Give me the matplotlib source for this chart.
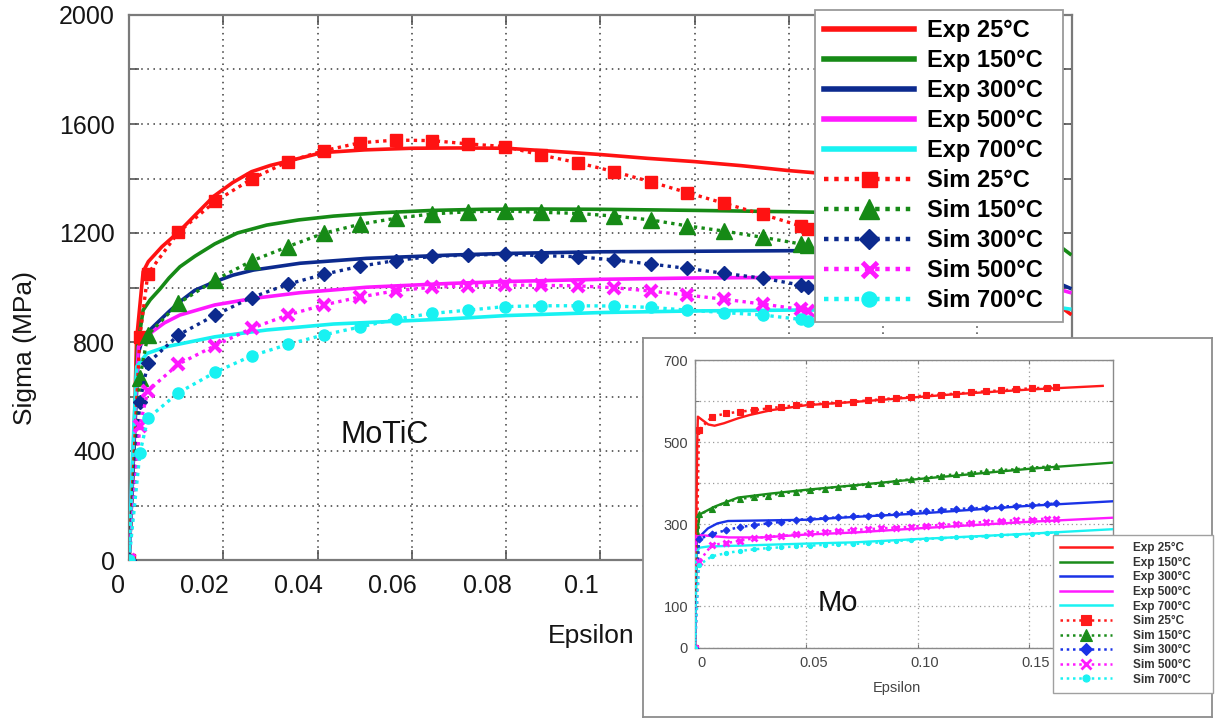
import matplotlib
matplotlib.use('Agg')
import matplotlib.pyplot as plt
from matplotlib.lines import Line2D
from matplotlib.transforms import ScaledTranslation

plt.rcParams['font.family'] = ['Liberation Sans', 'DejaVu Sans']

# ---------------- data: main chart (MoTiC) ----------------
temps = ['25', '150', '300', '500', '700']

exp25_eps = [0, 0.0010, 0.0016, 0.0030, 0.0041, 0.0070, 0.0106, 0.0140, 0.0180, 0.0220, 0.0260, 0.0300,
             0.0340, 0.0410, 0.0500, 0.0600, 0.0700, 0.0800, 0.0900, 0.1000, 0.1100, 0.1200, 0.1300,
             0.1400, 0.1600, 0.1800, 0.1940, 0.1980, 0.2000]
exp25_sig = [0, 400, 807, 1058, 1095, 1150, 1205, 1265, 1335, 1385, 1425, 1448,
             1465, 1495, 1505, 1511, 1512, 1511, 1500, 1488, 1474, 1462, 1447,
             1429, 1400, 1370, 1340, 925, 900]

exp150_eps = [0, 0.0010, 0.0018, 0.0030, 0.0045, 0.0066, 0.0085, 0.0108, 0.0140, 0.0182, 0.0230, 0.0292,
              0.0360, 0.0434, 0.0530, 0.0645, 0.0750, 0.0850, 0.1000, 0.1200, 0.1400, 0.1600, 0.1800,
              0.1920, 0.1980, 0.2000]
exp150_sig = [0, 400, 780, 917, 955, 995, 1035, 1076, 1115, 1160, 1200, 1229,
              1248, 1262, 1274, 1283, 1287, 1288, 1287, 1283, 1278, 1272, 1262,
              1240, 1145, 1119]

exp300_eps = [0, 0.0010, 0.0020, 0.0030, 0.0059, 0.0085, 0.0108, 0.0140, 0.0182, 0.0220, 0.0264, 0.0363,
              0.0504, 0.0681, 0.0800, 0.1000, 0.1200, 0.1400, 0.1920, 0.1980, 0.2000]
exp300_sig = [0, 400, 760, 820, 869, 912, 948, 990, 1021, 1045, 1064, 1089,
              1107, 1119, 1125, 1131, 1133, 1135, 1135, 1010, 995]

exp500_eps = [0, 0.0010, 0.0020, 0.0045, 0.0075, 0.0108, 0.0182, 0.0264, 0.0363, 0.0504, 0.0681, 0.0800,
              0.1000, 0.1200, 0.1400, 0.1920, 0.1980, 0.2000]
exp500_sig = [0, 450, 783, 832, 870, 899, 936, 960, 981, 1001, 1015, 1022,
              1030, 1035, 1037, 1040, 990, 980]

exp700_eps = [0, 0.0008, 0.0016, 0.0038, 0.0080, 0.0182, 0.0292, 0.0434, 0.0681, 0.0800, 0.1000, 0.1200,
              0.1400, 0.1900, 0.1980, 0.2000]
exp700_sig = [0, 400, 709, 758, 783, 819, 844, 866, 885, 897, 908, 914,
              917, 920, 925, 920]

sim_eps = [0, 0.0023, 0.0040, 0.0105, 0.0183, 0.0260, 0.0337, 0.0413, 0.0490, 0.0566, 0.0643,
           0.0720, 0.0798, 0.0875, 0.0952, 0.1030, 0.1107, 0.1185, 0.1263, 0.1345, 0.1425, 0.1440]
sim25_sig = [0, 819, 1050, 1203, 1316, 1398, 1462, 1502, 1531, 1541, 1539,
             1527, 1517, 1486, 1458, 1425, 1388, 1348, 1309, 1268, 1226, 1215]
sim150_sig = [0, 667, 826, 942, 1028, 1097, 1150, 1199, 1232, 1254, 1270,
              1278, 1281, 1276, 1272, 1262, 1248, 1226, 1207, 1184, 1160, 1155]
sim300_sig = [0, 581, 722, 826, 899, 963, 1012, 1048, 1078, 1099, 1114,
              1119, 1122, 1117, 1113, 1101, 1086, 1070, 1052, 1034, 1009, 1003]
sim500_sig = [0, 492, 621, 719, 787, 850, 899, 936, 965, 988, 1001,
              1006, 1009, 1008, 1006, 999, 987, 972, 957, 939, 920, 915]
sim700_sig = [0, 391, 520, 614, 689, 749, 791, 826, 855, 884, 905,
              917, 930, 933, 933, 932, 927, 917, 908, 899, 883, 878]

main_xticks = [0, 0.02, 0.04, 0.06, 0.08, 0.10, 0.12, 0.14, 0.16, 0.18, 0.20]
main_xticklabels = ['0', '0.02', '0.04', '0.06', '0.08', '0.1', '', '', '', '', '']
main_yticks = [0, 200, 400, 600, 800, 1000, 1200, 1400, 1600, 1800, 2000]
main_yticklabels = ['0', '', '400', '', '800', '', '1200', '', '1600', '', '2000']

# ---------------- data: inset (Mo) ----------------
in_exp25_eps = [0, 0.0005, 0.0010, 0.0013, 0.0030, 0.0060, 0.0088, 0.0130, 0.0193, 0.0245, 0.0343,
                0.0500, 0.0717, 0.0957, 0.1200, 0.1500, 0.1831]
in_exp25_sig = [0, 250, 500, 562, 555, 543, 540, 546, 558, 566, 578,
                590, 598, 608, 618, 628, 637]
in_exp150_eps = [0, 0.0008, 0.0015, 0.0021, 0.0088, 0.0193, 0.0343, 0.0500, 0.0717, 0.1000, 0.1500, 0.1872]
in_exp150_sig = [0, 250, 300, 324, 343, 365, 375, 384, 395, 410, 435, 450]
in_exp300_eps = [0, 0.0006, 0.0030, 0.0058, 0.0100, 0.0148, 0.0268, 0.0500, 0.0717, 0.1000, 0.1500, 0.1876]
in_exp300_sig = [0, 262, 275, 290, 302, 308, 309, 311, 318, 326, 345, 356]
in_exp500_eps = [0, 0.0006, 0.0060, 0.0150, 0.0300, 0.0500, 0.0717, 0.1000, 0.1500, 0.1876]
in_exp500_sig = [0, 274, 272, 268, 268, 275, 280, 290, 306, 316]
in_exp700_eps = [0, 0.0006, 0.0020, 0.0060, 0.0200, 0.0500, 0.0717, 0.1000, 0.1500, 0.1876]
in_exp700_sig = [0, 230, 243, 246, 248, 253, 256, 264, 277, 288]

in_sim_eps = [0, 0.0018, 0.0076, 0.0141, 0.0201, 0.0264, 0.0328, 0.0388, 0.0455, 0.0515, 0.0583,
              0.0642, 0.0710, 0.0777, 0.0837, 0.0904, 0.0969, 0.1038, 0.1104, 0.1172, 0.1238,
              0.1307, 0.1373, 0.1442, 0.1512, 0.1580, 0.1620]
in_sim25_sig = [0, 529, 562, 570, 574, 578, 582, 586, 590, 592, 594,
                596, 598, 602, 604, 608, 610, 614, 616, 618, 621,
                624, 626, 629, 631, 633, 635]
in_sim150_sig = [0, 324, 337, 355, 361, 367, 370, 375, 379, 383, 387,
                 391, 394, 397, 400, 405, 410, 413, 418, 422, 425,
                 430, 432, 434, 438, 440, 442]
in_sim300_sig = [0, 264, 276, 286, 293, 298, 302, 306, 311, 313, 315,
                 317, 319, 321, 323, 326, 330, 333, 335, 337, 339,
                 340, 343, 345, 347, 349, 351]
in_sim500_sig = [0, 209, 250, 254, 260, 266, 270, 271, 276, 278, 282,
                 284, 286, 288, 290, 292, 294, 297, 298, 301, 303,
                 306, 308, 310, 311, 314, 314]
in_sim700_sig = [0, 201, 222, 230, 235, 239, 242, 244, 246, 248, 250,
                 251, 252, 254, 256, 259, 262, 264, 266, 268, 269,
                 271, 273, 275, 276, 279, 280]

in_xticks = [0, 0.05, 0.10, 0.15]
in_xticklabels = ['0', '0.05', '0.10', '0.15']
in_yticks = [0, 100, 200, 300, 400, 500, 600, 700]
in_yticklabels = ['0', '100', '', '300', '', '500', '', '700']

# ---------------- styles ----------------
main_colors = ['#ff1212', '#168a16', '#0c2a8e', '#ff18ff', '#18f2f2']
in_colors = ['#ff1a1a', '#1a8c1a', '#1a33e6', '#ff1aff', '#1af2f2']
markers = ['s', '^', 'D', 'x', 'o']
main_ms = [8, 11, 7.5, 8, 8]
in_ms = [4.5, 5, 3.5, 4, 3]

W, H = 1216, 718
fig = plt.figure(figsize=(W / 100, H / 100), dpi=100)


def fx(px):
    return px / W


def fy(py):
    return 1 - py / H


# ================= main axes =================
L, R, T, B = 129, 1071.5, 15, 560
ax = fig.add_axes([fx(L), fy(B), (R - L) / W, (B - T) / H])
ax.set_xlim(0, 0.2)
ax.set_ylim(0, 2000)

exp_main = [(exp25_eps, exp25_sig), (exp150_eps, exp150_sig), (exp300_eps, exp300_sig),
            (exp500_eps, exp500_sig), (exp700_eps, exp700_sig)]
sim_main = [sim25_sig, sim150_sig, sim300_sig, sim500_sig, sim700_sig]

for (e, s), c in zip(exp_main, main_colors):
    ax.plot(e, s, color=c, lw=2.6, zorder=3, solid_capstyle='butt')
for s, c, m, ms in zip(sim_main, main_colors, markers, main_ms):
    ax.plot(sim_eps, s, color=c, ls=(0, (1.0, 1.3)), lw=2.4, marker=m, ms=ms,
            mew=3 if m == 'x' else 1, mec=c, mfc=c, zorder=4)

ax.set_xticks(main_xticks)
ax.set_xticklabels(main_xticklabels)
ax.set_yticks(main_yticks)
ax.set_yticklabels(main_yticklabels)
ax.tick_params(axis='both', direction='in', length=7, width=1.2, color='#555555',
               labelsize=18, labelcolor='#151515', top=True, right=True)
ax.tick_params(axis='x', pad=10)
ax.tick_params(axis='y', pad=10)
ax.grid(True, color='#3a3a3a', ls=(0, (1, 3)), lw=1.1)
for sp in ax.spines.values():
    sp.set_color('#7a7a7a')
    sp.set_linewidth(1.6)

# x tick labels sit left of their ticks in the reference
for lab in ax.get_xticklabels():
    dx = -11 if lab.get_text() == '0' else -19
    lab.set_transform(lab.get_transform() + ScaledTranslation(dx / 100, 0, fig.dpi_scale_trans))

ax.set_xlabel('Epsilon', fontsize=19, color='#151515')
ax.xaxis.set_label_coords((591 - L) / (R - L), -(624 - B) / (B - T))
ax.set_ylabel('Sigma (MPa)', fontsize=19, color='#151515')
ax.yaxis.set_label_coords(-(L - 37) / (R - L), (B - 348) / (B - T))

ax.text((385 - L) / (R - L), (B - 435) / (B - T), 'MoTiC', transform=ax.transAxes,
        fontsize=22, ha='center', va='center', color='#111111')

handles = []
labels = []
for t, c in zip(temps, main_colors):
    handles.append(Line2D([], [], color=c, lw=4))
    labels.append(f'Exp {t}\u00b0C')
for t, c, m, ms in zip(temps, main_colors, markers, main_ms):
    handles.append(Line2D([], [], color=c, ls=(0, (1.0, 1.3)), lw=3.2, marker=m, ms=ms * 1.35,
                          mew=3.5 if m == 'x' else 1, mec=c, mfc=c))
    labels.append(f'Sim {t}\u00b0C')
leg = ax.legend(handles, labels, loc='upper left',
                bbox_to_anchor=(fx(815), fy(326), (1063 - 815) / W, (326 - 10) / H),
                bbox_transform=fig.transFigure, mode='expand',
                prop={'weight': 'bold', 'size': 17},
                handlelength=3.8, handletextpad=0.55, labelspacing=0.295, borderpad=0.4,
                borderaxespad=0, fancybox=False, framealpha=1, edgecolor='#9a9a9a')
leg.get_frame().set_linewidth(1.3)
leg.set_zorder(10)

# ================= inset frame =================
axf = fig.add_axes([fx(643), fy(717), (1212 - 643) / W, (717 - 338) / H])
axf.set_xticks([])
axf.set_yticks([])
axf.set_facecolor('white')
for sp in axf.spines.values():
    sp.set_color('#8c8c8c')
    sp.set_linewidth(1.3)

# ================= inset axes =================
iL, iR, iT, iB = 695, 1112.5, 360, 647.5
ax2 = fig.add_axes([fx(iL), fy(iB), (iR - iL) / W, (iB - iT) / H])
ax2.set_xlim(0, 0.1875)
ax2.set_ylim(0, 700)

exp_in = [(in_exp25_eps, in_exp25_sig), (in_exp150_eps, in_exp150_sig), (in_exp300_eps, in_exp300_sig),
          (in_exp500_eps, in_exp500_sig), (in_exp700_eps, in_exp700_sig)]
sim_in = [in_sim25_sig, in_sim150_sig, in_sim300_sig, in_sim500_sig, in_sim700_sig]
for (e, s), c in zip(exp_in, in_colors):
    ax2.plot(e, s, color=c, lw=1.7, zorder=3)
for s, c, m, ms in zip(sim_in, in_colors, markers, in_ms):
    ax2.plot(in_sim_eps, s, color=c, ls=(0, (1, 1.5)), lw=1.8, marker=m, ms=ms,
             mew=2 if m == 'x' else 0.8, mec=c, mfc=c, zorder=4)

ax2.set_xticks(in_xticks)
ax2.set_xticklabels(in_xticklabels)
ax2.set_yticks(in_yticks)
ax2.set_yticklabels(in_yticklabels)
ax2.tick_params(axis='both', direction='in', length=3, width=0.8, color='#777777',
                labelsize=10.5, labelcolor='#444444', top=True, right=True)
ax2.tick_params(axis='x', pad=6)
ax2.tick_params(axis='y', pad=5)
for lab in ax2.get_xticklabels():
    lab.set_transform(lab.get_transform() + ScaledTranslation(7 / 100, 0, fig.dpi_scale_trans))
ax2.grid(True, color='#9a9a9a', ls=(0, (1, 2.5)), lw=0.9)
for sp in ax2.spines.values():
    sp.set_color('#8a8a8a')
    sp.set_linewidth(1.0)
ax2.set_xlabel('Epsilon', fontsize=10.5, color='#444444')
ax2.xaxis.set_label_coords((897 - iL) / (iR - iL), -(681 - iB) / (iB - iT))

ax2.text((838 - iL) / (iR - iL), (iB - 603) / (iB - iT), 'Mo', transform=ax2.transAxes,
         fontsize=21, ha='center', va='center', color='#111111')

ih = []
for c in in_colors:
    ih.append(Line2D([], [], color=c, lw=1.8))
for c, m, ms in zip(in_colors, markers, in_ms):
    ih.append(Line2D([], [], color=c, ls=(0, (1, 1.5)), lw=1.8, marker=m, ms=ms * 1.7,
                     mew=2 if m == 'x' else 0.8, mec=c, mfc=c))
leg2 = ax2.legend(ih, labels, loc='upper left',
                  bbox_to_anchor=(fx(1053), fy(690), (1213 - 1053) / W, (690 - 535) / H),
                  bbox_transform=fig.transFigure, mode='expand',
                  prop={'weight': 'bold', 'size': 8.5},
                  labelcolor='#333333', handlelength=4.4, handletextpad=1.8, labelspacing=0.22,
                  borderpad=0.6, borderaxespad=0, fancybox=False, framealpha=1, edgecolor='#a0a0a0')
leg2.get_frame().set_linewidth(1.0)

fig.savefig('out.png', dpi=100)
